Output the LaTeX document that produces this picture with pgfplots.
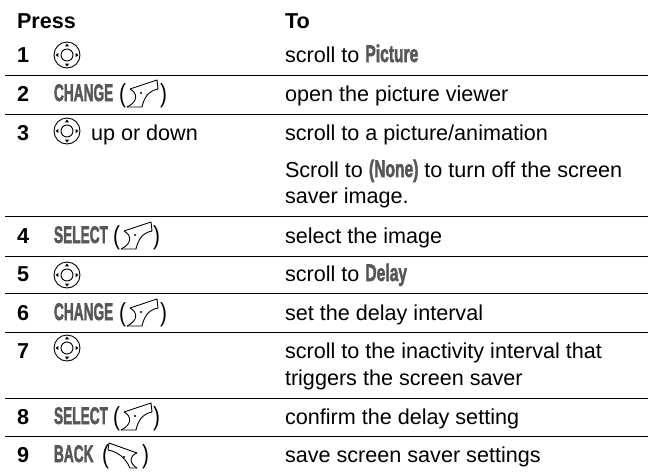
\documentclass[border=0pt]{standalone}
\usepackage{pgfplots}
\usepackage{fontspec}
\setmainfont{Liberation Sans}
\newfontfamily\hdfont[BoldFeatures={FakeBold=2.5}]{Liberation Sans}
\pgfplotsset{compat=1.18}
\newcommand{\hd}[2][0.65]{{\color{black!66}\hdfont\fontsize{24}{26}\selectfont\bfseries\scalebox{#1}[1]{#2}}}
\newcommand{\pl}{\scalebox{0.8}[1]{(}}
\newcommand{\pr}{\scalebox{0.8}[1]{)}}
\tikzset{
 nav/.pic={
  \draw[line width=0.9pt] (0,0) circle (13);
  \draw[line width=0.9pt] (0,0) circle (6);
  \fill (0,-11.5)--(-2,-8.7)--(2,-8.7)--cycle;
  \fill (0,11.5)--(-2,8.7)--(2,8.7)--cycle;
  \fill (-11.5,0)--(-8.7,-2)--(-8.7,2)--cycle;
  \fill (11.5,0)--(8.7,-2)--(8.7,2)--cycle;
 },
 softr/.pic={
  \draw[line width=0.9pt,line join=round] (0,9) -- (27,0) -- (28,9) .. controls (18,11) and (14,18) .. (12,27) -- (-3,27);
  \draw[line width=0.9pt] (0,9) .. controls (8,13) and (8,22) .. (-3,27);
  \fill (11,13) circle (1.1);
 },
 softl/.pic={
  \draw[line width=0.9pt,line join=round] (28,10) -- (0,0) -- (-1,7) .. controls (10,9) and (17,16) .. (21,25) -- (28,25);
  \draw[line width=0.9pt] (28,10) .. controls (20,13) and (20,20) .. (28,25);
  \fill (15,14) circle (1.1);
 }
}
\begin{document}
\begin{tikzpicture}
\path[use as bounding box] (0,0) rectangle (648pt,-472pt);
\begin{axis}[at={(0,0)},anchor=north west,scale only axis,width=648pt,height=472pt,
 xmin=0,xmax=648,ymin=0,ymax=472,y dir=reverse,hide axis,clip=false,
 nodes={anchor=base west,inner sep=0pt,outer sep=0pt,font=\fontsize{21.6}{24}\selectfont}]
\foreach \y in {75,114,216,256,293,332,398,436}{
 \edef\tmp{\noexpand\addplot[black,line width=0.9pt,forget plot] coordinates {(5,\y) (648,\y)};}
 \tmp
}
\node[font=\fontsize{21.6}{24}\selectfont\bfseries] at (axis cs:17,28) {Press};
\node[font=\fontsize{21.6}{24}\selectfont\bfseries] at (axis cs:285,28) {To};
\foreach \n/\y in {1/62,2/101,3/140,4/243,5/281,6/320,7/358,8/424,9/462}{
 \edef\tmp{\noexpand\node[font=\noexpand\fontsize{21.6}{24}\noexpand\selectfont\noexpand\bfseries] at (axis cs:17,\y) {\n};}
 \tmp
}
\node at (axis cs:285,62) {scroll to \hd{Picture}};
\node at (axis cs:285,101) {open the picture viewer};
\node at (axis cs:285,140) {scroll to a picture/animation};
\node at (axis cs:285,177) {Scroll to \hd{(None)} to turn off the screen};
\node at (axis cs:285,203) {saver image.};
\node at (axis cs:285,243) {select the image};
\node at (axis cs:285,281) {scroll to \hd{Delay}};
\node at (axis cs:285,320) {set the delay interval};
\node at (axis cs:285,358) {scroll to the inactivity interval that};
\node at (axis cs:285,385) {triggers the screen saver};
\node at (axis cs:285,424) {confirm the delay setting};
\node at (axis cs:285,462) {save screen saver settings};
\node at (axis cs:91,140) {up or down};
\node at (axis cs:54,101) {\hd[0.57]{CHANGE}};
\node at (axis cs:54,320) {\hd[0.57]{CHANGE}};
\node at (axis cs:54,243) {\hd[0.57]{SELECT}};
\node at (axis cs:54,424) {\hd[0.57]{SELECT}};
\node at (axis cs:54,462) {\hd[0.57]{BACK}};
\foreach \x/\y in {119/102,119/321,113/425,113/244,102/463}{
 \edef\tmp{\noexpand\node[font=\noexpand\fontsize{26}{28}\noexpand\selectfont] at (axis cs:\x,\y) {\noexpand\pl};}
 \tmp
}
\foreach \x/\y in {160/102,160/321,153/425,153/244,142/463}{
 \edef\tmp{\noexpand\node[font=\noexpand\fontsize{26}{28}\noexpand\selectfont] at (axis cs:\x,\y) {\noexpand\pr};}
 \tmp
}
\end{axis}
\begin{scope}[x=1pt,y=-1pt]
\foreach \y in {55,131,275,348}{\pic at (67,\y) {nav};}
\foreach \p in {(130,80),(130,299),(124,403),(124,222)}{\pic at \p {softr};}
\pic at (109,443) {softl};
\end{scope}
\end{tikzpicture}
\end{document}
